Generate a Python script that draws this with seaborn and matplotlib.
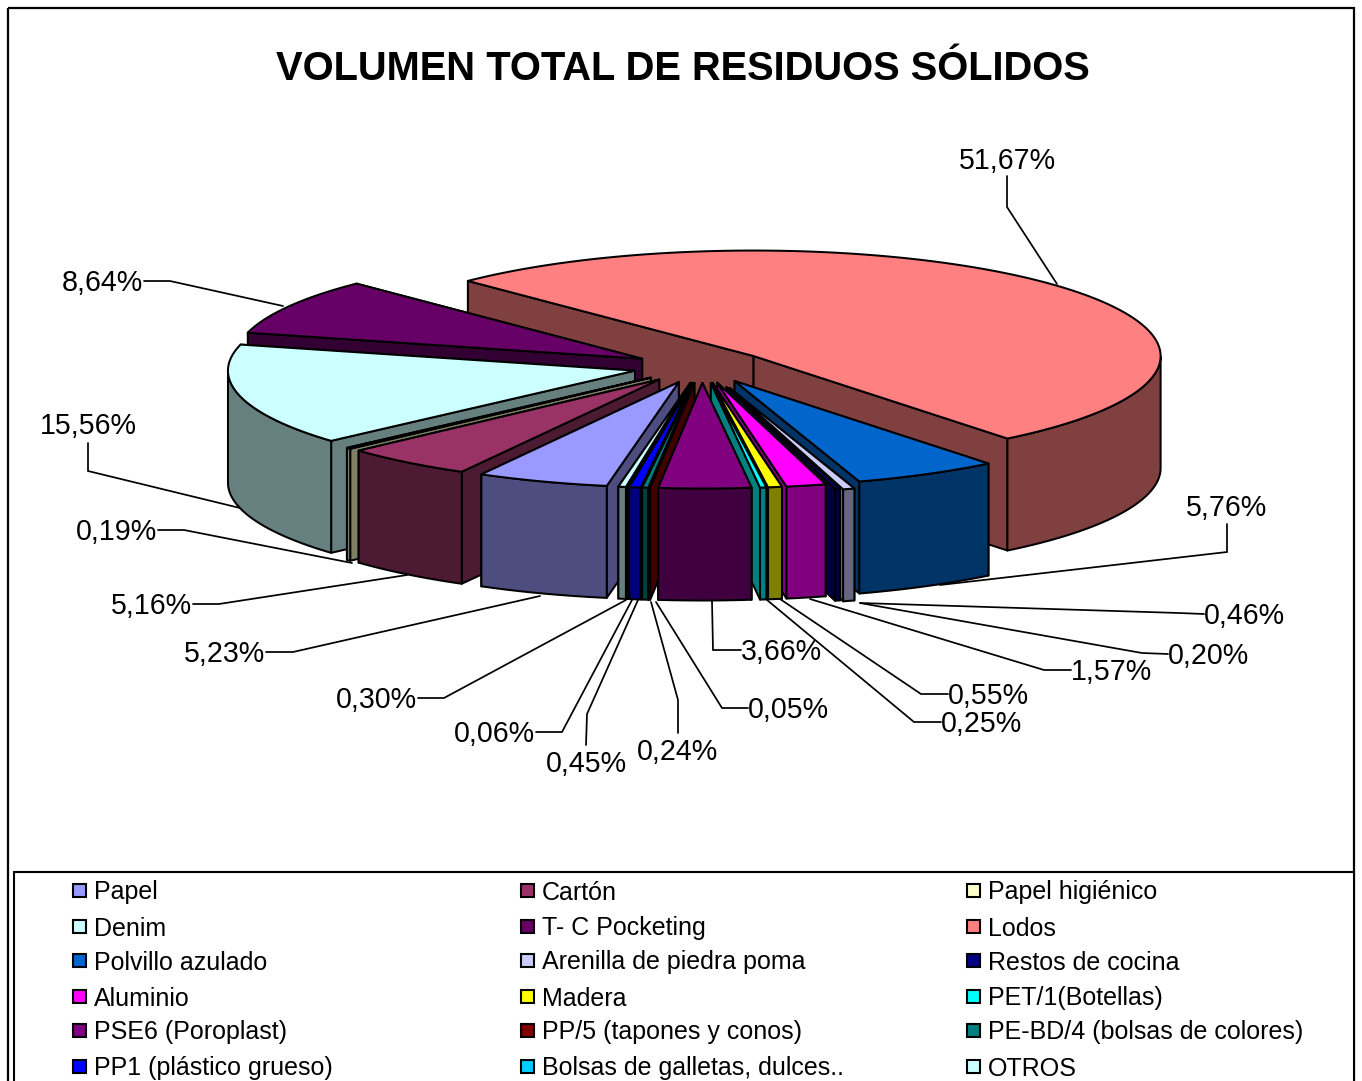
import numpy as np
import pandas as pd
import seaborn as sns
import matplotlib
matplotlib.use("Agg")
import matplotlib.pyplot as plt
from matplotlib.patches import Rectangle

categories = ["Papel", "Cartón", "Papel higiénico", "Denim", "T- C Pocketing", "Lodos",
              "Polvillo azulado", "Arenilla de piedra poma", "Restos de cocina", "Aluminio",
              "Madera", "PET/1(Botellas)", "PSE6 (Poroplast)", "PP/5 (tapones y conos)",
              "PE-BD/4 (bolsas de colores)", "PP1 (plástico grueso)",
              "Bolsas de galletas, dulces..", "OTROS"]
values = [5.23, 5.16, 0.19, 15.56, 8.64, 51.67, 5.76, 0.46, 0.20, 1.57, 0.55, 0.25,
          3.66, 0.05, 0.24, 0.45, 0.06, 0.30]
explode = [1, 1, 1, 1, 1, 1, 1, 1.37, 1.3, 1, 1, 1, 1, 1, 1, 1, 1, 1]
colors = ["#9999FF", "#993366", "#FFFFCC", "#CCFFFF", "#660066", "#FF8080", "#0066CC",
          "#CCCCFF", "#000080", "#FF00FF", "#FFFF00", "#00FFFF", "#800080", "#800000",
          "#008080", "#0000FF", "#00CCFF", "#CCFFFF"]
title = "VOLUMEN TOTAL DE RESIDUOS SÓLIDOS"

# label layout: text anchor, ha, then leader-line path
label_layout = {
    "Lodos": ((1007, 159), "center", [(1007, 176), (1007, 207), (1057, 284)]),
    "T- C Pocketing": ((143, 281), "right", [(144, 281), (170, 281), (283, 306)]),
    "Denim": ((88, 424), "center", [(88, 443), (88, 471), (240, 508)]),
    "Papel higiénico": ((157, 530), "right", [(158, 530), (184, 530), (352, 563)]),
    "Cartón": ((192, 604), "right", [(193, 604), (219, 604), (407, 575)]),
    "Papel": ((265, 652), "right", [(266, 652), (293, 652), (540, 596)]),
    "OTROS": ((417, 698), "right", [(418, 698), (444, 698), (626, 600)]),
    "Bolsas de galletas, dulces..": ((535, 732), "right", [(536, 732), (562, 732), (632, 600)]),
    "PP1 (plástico grueso)": ((586, 762), "center", [(586, 745), (587, 714), (638, 600)]),
    "PE-BD/4 (bolsas de colores)": ((677, 750), "center", [(678, 733), (678, 700), (651, 602)]),
    "PP/5 (tapones y conos)": ((748, 708), "left", [(748, 708), (722, 708), (656, 602)]),
    "PSE6 (Poroplast)": ((741, 650), "left", [(741, 650), (713, 650), (712, 601)]),
    "PET/1(Botellas)": ((941, 722), "left", [(941, 722), (914, 722), (767, 600)]),
    "Madera": ((948, 694), "left", [(948, 694), (921, 694), (780, 599)]),
    "Aluminio": ((1071, 670), "left", [(1071, 670), (1044, 670), (810, 599)]),
    "Restos de cocina": ((1168, 654), "left", [(1168, 654), (1142, 653), (860, 603)]),
    "Arenilla de piedra poma": ((1204, 614), "left", [(1204, 614), (1179, 613), (860, 603)]),
    "Polvillo azulado": ((1227, 506), "center", [(1227, 524), (1227, 552), (940, 585)]),
}

sns.set_theme(style="white")
plt.rcParams["font.family"] = ["Liberation Sans", "DejaVu Sans"]
palette = sns.color_palette(colors)

df = pd.DataFrame({"cat": categories, "val": values, "exp": explode, "top": palette})
df["span"] = df["val"] / df["val"].sum() * 360
df["a0"] = 259.8 - df["span"].cumsum().shift(fill_value=0)
df["a1"] = df["a0"] - df["span"]
df["mid"] = (df["a0"] + df["a1"]) / 2

CX, CY, RX, RY, EX, EY, H = 702.0, 366.8, 407.0, 105.5, 69.0, 16.2, 112.0
LW = 1.45

fig = plt.figure(figsize=(13.62, 10.81), dpi=100, facecolor="white")
ax = fig.add_axes([0, 0, 1, 1])
ax.set_xlim(0, 1362)
ax.set_ylim(1081, 0)
ax.axis("off")


def poly(x, y, color, z):
    ax.fill(x, y, facecolor=color, edgecolor="black", linewidth=LW, zorder=z,
            joinstyle="round")


z = 3.0
for _, s in df.assign(k=np.sin(np.radians(df["mid"]))).sort_values("k", ascending=False).iterrows():
    side = tuple(c * 0.5 for c in s["top"])
    ax_x = CX + s["exp"] * EX * np.cos(np.radians(s["mid"]))
    ax_y = CY - s["exp"] * EY * np.sin(np.radians(s["mid"]))
    th = np.radians(np.linspace(s["a0"], s["a1"], max(int(s["span"] * 2), 3)))
    ox = ax_x + RX * np.cos(th)
    oy = ax_y - RY * np.sin(th)
    # radial walls, farthest first
    edges = sorted([(ox[0], oy[0]), (ox[-1], oy[-1])], key=lambda p: p[1])
    for ex_, ey_ in edges:
        z += 0.01
        poly([ax_x, ex_, ex_, ax_x], [ax_y, ey_, ey_ + H, ax_y + H], side, z)
    # rounded outer wall (front half only)
    front = np.sin(th) <= 0
    if front.sum() >= 2:
        z += 0.01
        poly(np.r_[ox[front], ox[front][::-1]], np.r_[oy[front], oy[front][::-1] + H], side, z)
    z += 0.01
    poly(np.r_[ax_x, ox], np.r_[ax_y, oy], s["top"], z)

# leaders and value labels
for _, s in df.iterrows():
    (tx, ty), ha, path = label_layout[s["cat"]]
    px, py = zip(*path)
    ax.plot(px, py, color="black", lw=1.25, zorder=2, solid_joinstyle="miter")
    ax.text(tx, ty + 2, f"{s['val']:.2f}%".replace(".", ","), ha=ha, va="center",
            fontsize=20.6, color="black", zorder=20)

ax.text(683, 80, title, ha="center", va="baseline", fontsize=28.7, fontweight="bold", color="black")

# outer frame and legend frame
ax.add_patch(Rectangle((8, 8), 1346, 1100, fill=False, ec="black", lw=1.6, zorder=1))
ax.add_patch(Rectangle((14, 872), 1340, 300, facecolor="white", ec="black", lw=1.5, zorder=1.5))

col_x = [73, 521, 967]
row_y = [891, 927, 961, 997, 1031, 1067]
for i, s in df.iterrows():
    x = col_x[i % 3]
    y = row_y[i // 3]
    ax.add_patch(Rectangle((x, y - 7), 13, 13, facecolor=s["top"], ec="black", lw=1.5, zorder=20))
    ax.text(x + 21, y + 8.5, s["cat"], ha="left", va="baseline", fontsize=18, color="black", zorder=20)

fig.savefig("out.png", dpi=100)
